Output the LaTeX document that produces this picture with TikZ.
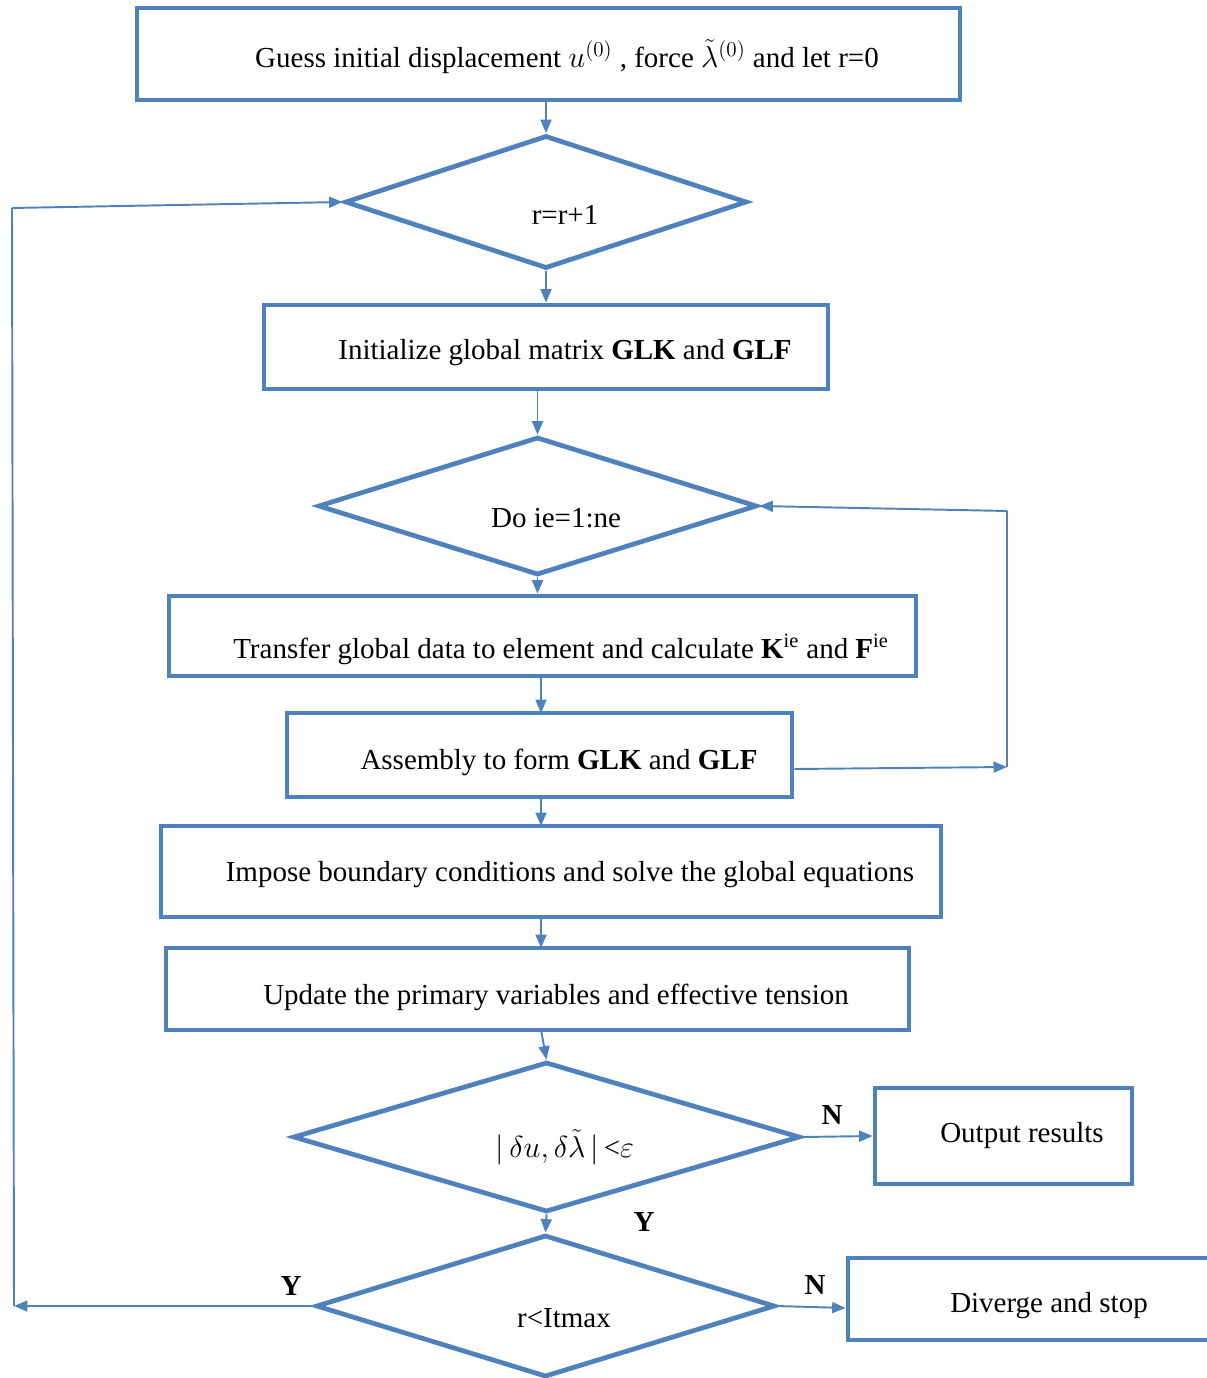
\documentclass[tikz,border=0pt]{standalone}
\usepackage{fontspec}
\setmainfont{Liberation Serif}
\usetikzlibrary{shapes.geometric,arrows.meta}
\definecolor{flowblue}{HTML}{4F81BD}
\newcommand{\upx}{0.02cm}
\begin{document}
\begin{tikzpicture}[x=0.02cm,y=-0.02cm,
  every node/.style={font=\fontsize{16.5}{19}\selectfont},
  every label/.style={font=\fontsize{16.5}{19}\selectfont, inner sep=0pt},
  box/.style={draw=flowblue, line width=2.7pt, rectangle, inner sep=0pt},
  dia/.style={draw=flowblue, line width=2.7pt, diamond, inner sep=0pt},
  arr/.style={draw=flowblue, line width=1.1pt, -{Triangle[length=0.27cm,width=0.22cm]}},
  conn/.style={draw=flowblue, line width=1.1pt},
  yn/.style={font=\fontsize{16.5}{19}\selectfont\bfseries, inner sep=0pt}
]
\useasboundingbox (0,0) rectangle (1206,1378);

% boxes
\node[box, minimum width=823*\upx, minimum height=92*\upx,
  label={[shift={(18.5,3)}]center:Guess initial displacement $u^{(0)}$ , force $\tilde{\lambda}^{(0)}$ and let r=0}]
  (b1) at (548.5,54) {};
\node[dia, minimum width=402*\upx, minimum height=133*\upx,
  label={[shift={(19,13)}]center:r=r+1}] (d1) at (546,202) {};
\node[box, minimum width=564*\upx, minimum height=84*\upx,
  label={[shift={(19,6)}]center:Initialize global matrix \textbf{GLK} and \textbf{GLF}}]
  (b2) at (546,347) {};
\node[dia, minimum width=439*\upx, minimum height=138*\upx,
  label={[shift={(18.5,12)}]center:Do ie=1:ne}] (d2) at (537.5,506) {};
\node[box, minimum width=747*\upx, minimum height=80*\upx,
  label={[shift={(18.5,13)}]center:Transfer global data to element and calculate \textbf{K}\textsuperscript{ie} and \textbf{F}\textsuperscript{ie}}]
  (b3) at (542.5,636) {};
\node[box, minimum width=505*\upx, minimum height=84*\upx,
  label={[shift={(19.5,7)}]center:Assembly to form \textbf{GLK} and \textbf{GLF}}]
  (b4) at (539.5,755) {};
\node[box, minimum width=780*\upx, minimum height=91*\upx,
  label={[shift={(19,3.5)}]center:Impose boundary conditions and solve the global equations}]
  (b5) at (551,871.5) {};
\node[box, minimum width=743*\upx, minimum height=82*\upx,
  label={[shift={(18.5,8)}]center:Update the primary variables and effective tension}]
  (b6) at (537.5,989) {};
\node[dia, minimum width=507*\upx, minimum height=150*\upx,
  label={[shift={(18.5,10)}]center:$|\,\delta u, \delta\tilde{\lambda}\,|$\,<$\varepsilon$}]
  (d3) at (546.5,1137) {};
\node[box, minimum width=257*\upx, minimum height=96*\upx,
  label={[shift={(18.5,0)}]center:Output results}] (b7) at (1003.5,1136) {};
\node[dia, minimum width=459*\upx, minimum height=142*\upx,
  label={[shift={(18.5,12)}]center:r<Itmax}] (d4) at (545.5,1306) {};
\node[box, minimum width=374*\upx, minimum height=82*\upx,
  label={[shift={(14,7)}]center:Diverge and stop}] (b8) at (1035,1299) {};

% loop coordinates
\coordinate (r1) at (1007,511);
\coordinate (r2) at (1007,767);
\coordinate (b4out) at (b4.east |- 0,769);
\coordinate (b8in) at (b8.west |- 0,1308);
\coordinate (l1) at (14,1306);
\coordinate (l2) at (12,208);

% main flow
\draw[arr] (b1.south -| d1.north) -- (d1.north);
\draw[arr] (d1.south) -- (d1.south |- b2.north);
\draw[arr] (d2.north |- b2.south) -- (d2.north);
\draw[arr] (d2.south) -- (d2.south |- b3.north);
\draw[arr] (541,676) -- (541,713);
\draw[arr] (541,797) -- (541,826);
\draw[arr] (541,917) -- (541,948);
\draw[arr] (541,1030) -- (d3.north);
\draw[arr] (d3.south) -- (d4.north);
\node[yn] (yl1) at (644,1222) {Y};

% inner loop
\draw[arr] (b4out) -- (r2);
\draw[conn] (r2) -- (r1);
\draw[arr] (r1) -- (d2.east);

% outputs
\draw[arr] (d3.east) -- (b7.west);
\node[yn] (nl1) at (832,1115) {N};
\draw[arr] (d4.east) -- (b8in);
\node[yn] (nl2) at (815,1285) {N};

% outer loop
\draw[arr] (d4.west) -- (l1);
\node[yn] (yl2) at (291,1286) {Y};
\draw[conn] (l1) -- (l2);
\draw[arr] (l2) -- (d1.west);
\end{tikzpicture}
\end{document}
